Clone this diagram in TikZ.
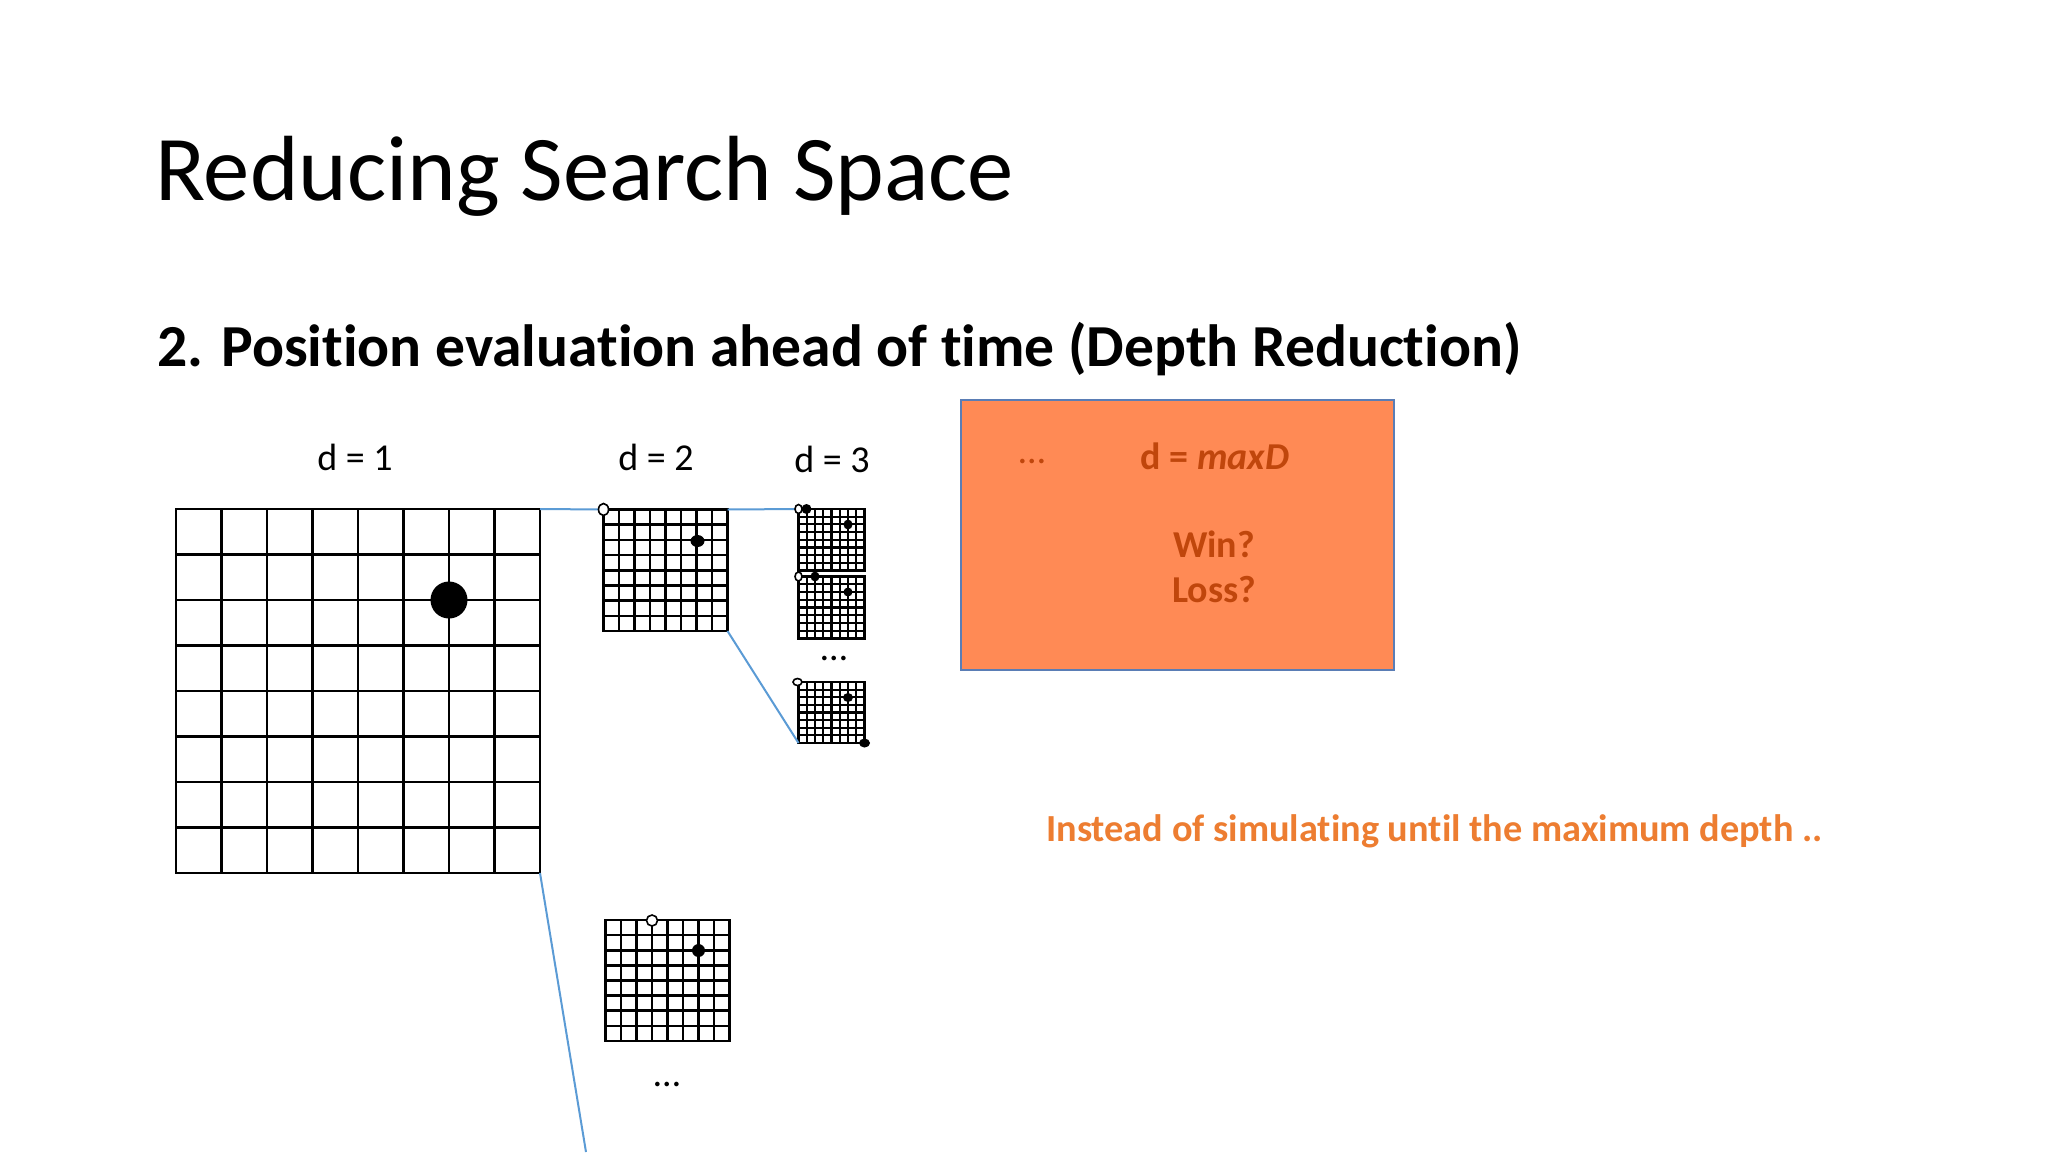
\documentclass[tikz,border=0pt]{standalone}
\usepackage{fontspec}
\setmainfont{Carlito}[Ligatures=NoCommon]
\usepackage{tikz}
\usetikzlibrary{calc,shapes.geometric}

\definecolor{linkblue}{HTML}{5B9BD5}
\definecolor{accent}{HTML}{ED7D31}
\definecolor{boxfill}{HTML}{FF8A55}
\definecolor{boxtext}{HTML}{C0460C}
\definecolor{boxedge}{HTML}{5A7DB5}

\tikzset{
  board/.style={draw, rectangle, inner sep=0pt, outer sep=0pt, fill=white, line width=#1},
  link/.style={draw=linkblue, line width=2pt},
  stone/.style={ellipse, fill=black, inner sep=0pt, outer sep=0pt},
  openstone/.style={ellipse, draw=black, fill=white, line width=1.6pt, inner sep=0pt, outer sep=0pt},
  dims/.style 2 args={minimum width=#1, minimum height=#2},
  label/.style={anchor=base, inner sep=0pt, font=\fontsize{38}{46}\selectfont},
}

% board: name, x, y, width, height, line width
\newcommand{\goboard}[6]{%
  \node[board=#6, minimum width=#4, minimum height=#5, anchor=north west] (#1) at (#2,#3) {};
  \foreach \k in {1,...,7}{
    \draw[line width=#6] ($(#1.north west)!\k/8!(#1.north east)$) -- ($(#1.south west)!\k/8!(#1.south east)$);
    \draw[line width=#6] ($(#1.north west)!\k/8!(#1.south west)$) -- ($(#1.north east)!\k/8!(#1.south east)$);
  }
}

\begin{document}
\begin{tikzpicture}[x=1pt, y=-1pt]
  \fill[white] (0,0) rectangle (2048,1152);
  \useasboundingbox (0,0) rectangle (2048,1152);

  % headings
  \node[anchor=base west, inner sep=0pt, font=\fontsize{92.6}{110}\selectfont] (title) at (155,200) {Reducing Search Space};
  \node[anchor=base west, inner sep=0pt, font=\fontsize{59.6}{70}\selectfont\bfseries] (sub) at (157,366) {2. Position evaluation ahead of time (Depth Reduction)};

  % depth labels
  \node[label] (d1) at (355,470) {d = 1};
  \node[label] (d2) at (656,470) {d = 2};
  \node[label] (d3) at (832,472) {d = 3};

  % boards
  \coordinate (cut) at (586,1152);
  \goboard{g1}{176}{509}{364}{364}{2.8pt}
  \goboard{g2}{603.5}{509.5}{124}{121.5}{2.6pt}
  \goboard{g3a}{798.5}{509}{66}{61.5}{2.2pt}
  \goboard{g3b}{798.5}{576.5}{66}{62}{2.2pt}
  \goboard{g3c}{798.5}{682}{66}{61}{2.2pt}
  \goboard{g4}{605.5}{920}{124}{121}{2.6pt}

  % connectors
  \draw[link] (g1.north east) -- (g2.north west);
  \draw[link] (g2.north east) -- (g3a.north west);
  \draw[link] (g2.south east) -- (g3c.south west);
  \draw[link] (g1.south east) -- (cut);

  % stones
  \node[stone, dims={37}{37}] (s1) at (449,600) {};
  \node[openstone, dims={10}{12}] (w2) at (603.5,509.5) {};
  \node[stone, dims={14}{12}] (s2) at (697.5,541) {};
  \node[openstone, dims={7}{9}] (w3a) at (798.5,509) {};
  \node[stone, dims={10}{10}] (s3a1) at (806.5,509) {};
  \node[stone, dims={9}{10}] (s3a2) at (848,524.5) {};
  \node[openstone, dims={7}{9}] (w3b) at (798.5,576.5) {};
  \node[stone, dims={9}{10}] (s3b1) at (815,576.5) {};
  \node[stone, dims={9}{9}] (s3b2) at (848,592) {};
  \node[openstone, dims={9}{7}] (w3c) at (797.5,682) {};
  \node[stone, dims={10}{9}] (s3c1) at (848,697.5) {};
  \node[stone, dims={11}{9}] (s3c2) at (864.5,743) {};
  \node[openstone, dims={11}{11}] (w4) at (652,920.5) {};
  \node[stone, dims={13}{13}] (s4) at (698.5,950.5) {};

  % ellipses
  \node[label] (more3) at (834,660) {…};
  \node[label] (more4) at (667,1086) {…};

  % maximum depth box
  \node[rectangle, draw=boxedge, fill=boxfill, line width=1.5pt, inner sep=0pt, outer sep=0pt,
        dims={433}{270}, anchor=north west] (maxbox) at (961,400) {};
  \node[label, text=boxtext] (dots) at (1032,463) {…};
  \node[label, text=boxtext, font=\fontsize{38}{46}\selectfont\bfseries] (dmax) at (1215,469) {d = \textit{maxD}};
  \node[label, text=boxtext, font=\fontsize{38}{46}\selectfont\bfseries] (win) at (1214,557) {Win?};
  \node[label, text=boxtext, font=\fontsize{38}{46}\selectfont\bfseries] (loss) at (1214,602) {Loss?};

  % note
  \node[anchor=base west, inner sep=0pt, text=accent, font=\fontsize{38.3}{46}\selectfont\bfseries] (note) at (1046,841) {Instead of simulating until the maximum depth ..};
\end{tikzpicture}
\end{document}
